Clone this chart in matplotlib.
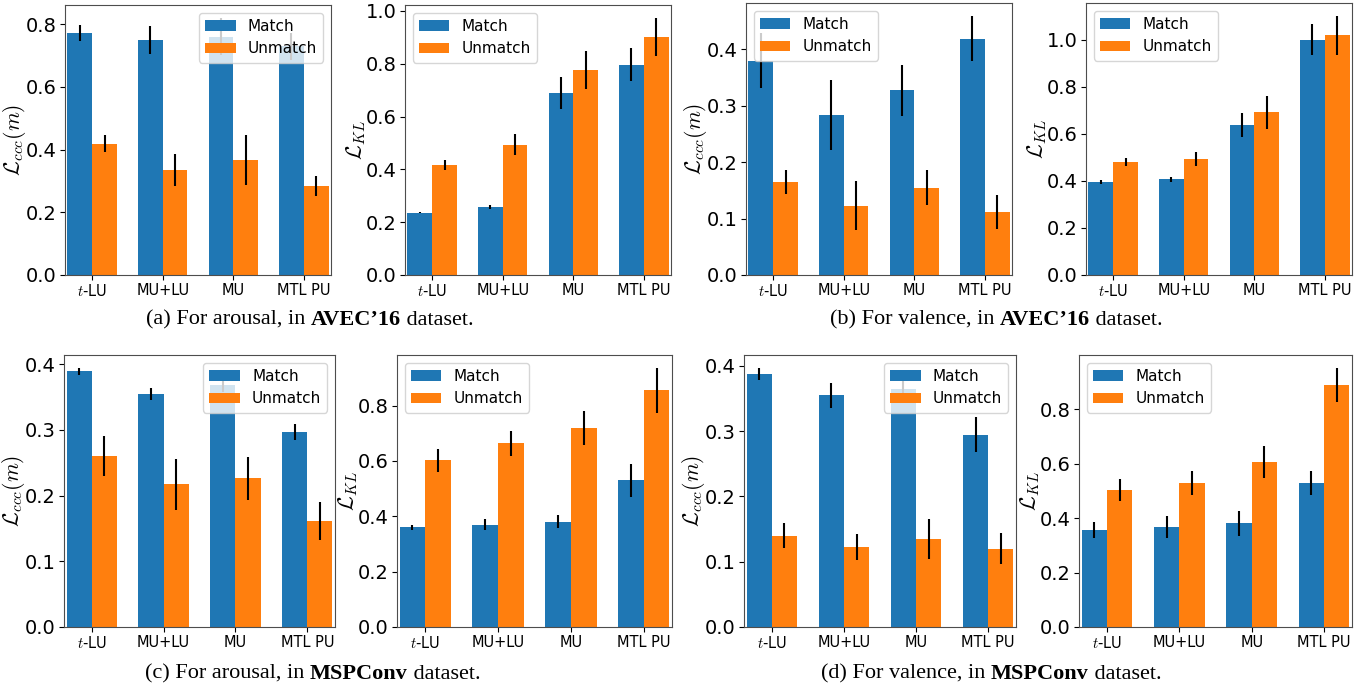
import numpy as np
import matplotlib
matplotlib.use('Agg')
import matplotlib.pyplot as plt

plt.rcParams['mathtext.fontset'] = 'cm'

methods = ['$t$-LU', 'MU+LU', 'MU', 'MTL PU']

# (a) arousal, AVEC'16
a_ccc_match = [0.772, 0.750, 0.760, 0.729]
a_ccc_match_err = [0.026, 0.044, 0.060, 0.042]
a_ccc_unmatch = [0.418, 0.335, 0.367, 0.284]
a_ccc_unmatch_err = [0.027, 0.050, 0.079, 0.032]
a_kl_match = [0.236, 0.258, 0.690, 0.796]
a_kl_match_err = [0.002, 0.009, 0.060, 0.063]
a_kl_unmatch = [0.417, 0.493, 0.777, 0.902]
a_kl_unmatch_err = [0.020, 0.040, 0.071, 0.072]

# (b) valence, AVEC'16
b_ccc_match = [0.380, 0.284, 0.327, 0.419]
b_ccc_match_err = [0.048, 0.062, 0.045, 0.040]
b_ccc_unmatch = [0.165, 0.123, 0.155, 0.112]
b_ccc_unmatch_err = [0.021, 0.043, 0.031, 0.030]
b_kl_match = [0.394, 0.407, 0.636, 1.000]
b_kl_match_err = [0.008, 0.010, 0.050, 0.066]
b_kl_unmatch = [0.479, 0.492, 0.691, 1.018]
b_kl_unmatch_err = [0.018, 0.030, 0.070, 0.082]

# (c) arousal, MSPConv
c_ccc_match = [0.389, 0.355, 0.368, 0.296]
c_ccc_match_err = [0.005, 0.009, 0.010, 0.012]
c_ccc_unmatch = [0.260, 0.217, 0.226, 0.161]
c_ccc_unmatch_err = [0.031, 0.039, 0.033, 0.029]
c_kl_match = [0.360, 0.370, 0.381, 0.530]
c_kl_match_err = [0.008, 0.020, 0.022, 0.060]
c_kl_unmatch = [0.602, 0.664, 0.718, 0.855]
c_kl_unmatch_err = [0.042, 0.045, 0.062, 0.081]

# (d) valence, MSPConv
d_ccc_match = [0.388, 0.355, 0.365, 0.295]
d_ccc_match_err = [0.009, 0.019, 0.012, 0.027]
d_ccc_unmatch = [0.140, 0.122, 0.135, 0.120]
d_ccc_unmatch_err = [0.019, 0.020, 0.031, 0.024]
d_kl_match = [0.357, 0.368, 0.380, 0.529]
d_kl_match_err = [0.030, 0.040, 0.047, 0.045]
d_kl_unmatch = [0.503, 0.529, 0.606, 0.888]
d_kl_unmatch_err = [0.040, 0.045, 0.060, 0.063]

captions = [('(a) For arousal, in ', "AVEC\u201916", ' dataset.'),
            ('(b) For valence, in ', "AVEC\u201916", ' dataset.'),
            ('(c) For arousal, in ', 'MSPConv', ' dataset.'),
            ('(d) For valence, in ', 'MSPConv', ' dataset.')]

W, H = 1370, 690
fig = plt.figure(figsize=(W / 100, H / 100), dpi=100)

# pixel boxes: left, right, top, bottom
boxes = [(65, 331, 5, 275), (405, 671, 5, 275), (746, 1012, 3, 275), (1086, 1352, 3, 275),
         (64, 335, 355, 627), (397, 672, 355, 627), (744, 1016, 355, 627), (1079, 1352, 355, 627)]

panels = [
    (a_ccc_match, a_ccc_match_err, a_ccc_unmatch, a_ccc_unmatch_err, 'ccc', 'upper right'),
    (a_kl_match, a_kl_match_err, a_kl_unmatch, a_kl_unmatch_err, 'kl', 'upper left'),
    (b_ccc_match, b_ccc_match_err, b_ccc_unmatch, b_ccc_unmatch_err, 'ccc', 'upper left'),
    (b_kl_match, b_kl_match_err, b_kl_unmatch, b_kl_unmatch_err, 'kl', 'upper left'),
    (c_ccc_match, c_ccc_match_err, c_ccc_unmatch, c_ccc_unmatch_err, 'ccc', 'upper right'),
    (c_kl_match, c_kl_match_err, c_kl_unmatch, c_kl_unmatch_err, 'kl', 'upper left'),
    (d_ccc_match, d_ccc_match_err, d_ccc_unmatch, d_ccc_unmatch_err, 'ccc', 'upper right'),
    (d_kl_match, d_kl_match_err, d_kl_unmatch, d_kl_unmatch_err, 'kl', 'upper left'),
]

x = np.arange(len(methods))
w = 0.35
for (l, r, t, b), (m, me, u, ue, kind, loc) in zip(boxes, panels):
    ax = fig.add_axes([l / W, 1 - b / H, (r - l) / W, (b - t) / H])
    ax.bar(x - w / 2, m, w, yerr=me, color='#1f77b4', label='Match')
    ax.bar(x + w / 2, u, w, yerr=ue, color='#ff7f0e', label='Unmatch')
    ax.set_xticks(x)
    ax.set_xticklabels(methods)
    ax.set_xlim(-0.385, 3.385)
    ax.tick_params(axis='y', labelsize=14, pad=2.5)
    ax.tick_params(axis='x', labelsize=10.5, pad=2)
    for s in ax.spines.values():
        s.set_color('0.3')
    if kind == 'ccc':
        ax.set_ylabel(r'$\mathcal{L}_{ccc}(m)$', fontsize=15.5)
    else:
        ax.set_ylabel(r'$\mathcal{L}_{KL}$', fontsize=15.5)
    ax.yaxis.set_label_coords(-37 / (r - l), 0.5)
    ax.legend(loc=loc, fontsize=11)

cap_pos = [(146, 320), (830, 320), (145, 674), (821, 674)]
for (cx, cy), (p1, p2, p3) in zip(cap_pos, captions):
    t1 = fig.text(cx / W, 1 - cy / H, p1, fontsize=16, family='Liberation Serif', va='center')
    a2 = fig.add_artist(plt.Annotation(p2, xy=(1, 0), xycoords=t1, va='bottom', fontsize=16,
                                       family='Liberation Serif', fontweight='bold'))
    fig.add_artist(plt.Annotation(p3, xy=(1, 0), xycoords=a2, va='bottom', fontsize=16,
                                  family='Liberation Serif'))

fig.savefig('out.png', dpi=100)
